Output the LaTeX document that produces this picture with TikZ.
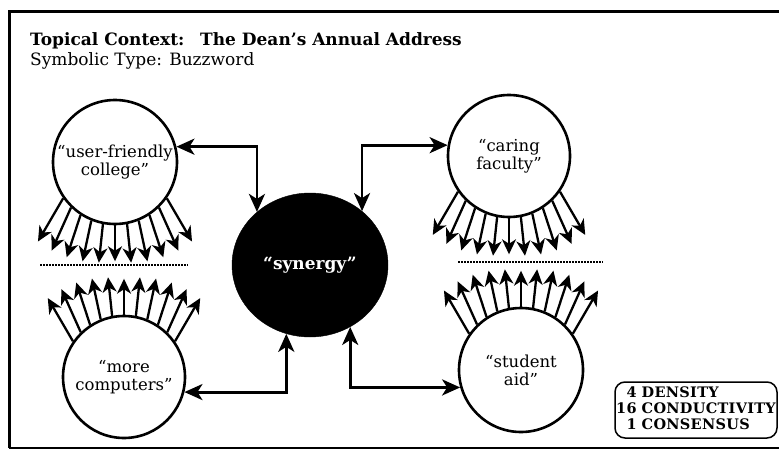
\documentclass[tikz,border=0pt]{standalone}
\usepackage{fontspec}
\setmainfont{DejaVu Serif}
\usetikzlibrary{arrows.meta,calc,shapes.geometric}
\begin{document}
\begin{tikzpicture}[x=1pt,y=1pt,
  bub/.style={circle,draw,line width=2.6pt,inner sep=0pt,minimum size=#1,align=center,
    font=\fontsize{16.5}{18}\selectfont},
  conn/.style={line width=2.9pt,{Stealth[length=18pt,width=16pt,inset=5pt]}-{Stealth[length=18pt,width=16pt,inset=5pt]}},
  ray/.style={line width=2.3pt,-{Stealth[length=15pt,width=14pt,inset=4.5pt]}},
  dotl/.style={line width=1.6pt,dash pattern=on 1.5pt off 1.5pt},
  ttl/.style={anchor=base west,inner sep=0pt,font=\bfseries\fontsize{17}{20}\selectfont},
  sub/.style={anchor=base west,inner sep=0pt,font=\fontsize{17}{20}\selectfont},
  legbox/.style={draw,rounded corners=10pt,line width=1.5pt,inner xsep=1pt,inner ysep=0pt,
    minimum width=162pt,minimum height=56pt,
    font=\bfseries\fontsize{14.5}{16}\selectfont\addfontfeature{LetterSpace=2}}
]
\useasboundingbox (0,0) rectangle (779,451);
\clip (0,0) rectangle (779,451);
\fill[white] (0,0) rectangle (779,451);
% frame
\draw[line width=3pt] (9,3) -- (9,439) -- (800,439);
\draw[line width=2pt] (9,3) -- (800,3);
% titles
\node[ttl] (t1) at (30,406) {Topical Context:};
\node[ttl] (t2) at (200,406) {The Dean's Annual Address};
\node[sub] (t3) at (30,385) {Symbolic Type: Buzzword};
% nodes
\node[bub=124pt] (ul) at (115,289) {“user-friendly\\college”};
\node[bub=122pt] (car) at (509,295) {“caring\\faculty”};
\node[bub=122pt] (ll) at (124,74) {“more\\computers”};
\node[bub=124pt] (sa) at (521,81) {“student\\aid”};
\node[ellipse,fill=black,draw,minimum width=156pt,minimum height=144pt,inner sep=0pt,
  text=white,font=\bfseries\fontsize{17}{19}\selectfont] (syn) at (310,186) {“synergy”};
% connectors
\draw[conn] (ul.14) -| (syn.135);
\draw[conn] (car.170) -| (syn.46);
\draw[conn] (ll.-14) -| (syn.251);
\draw[conn] (sa.196) -| (syn.-57);
% fans
\foreach \n in {ul,car}{
  \foreach \t in {215,226,...,325}{
    \pgfmathsetmacro\p{270+0.55*(\t-270)}
    \pgfmathsetmacro\l{36+14*abs(\t-270)/55}
    \draw[ray] (\n.\t) -- ++(\p:\l);
  }
}
\foreach \n in {ll,sa}{
  \foreach \t in {35,46,...,145}{
    \pgfmathsetmacro\p{90+0.55*(\t-90)}
    \pgfmathsetmacro\l{36+14*abs(\t-90)/55}
    \draw[ray] (\n.\t) -- ++(\p:\l);
  }
}
% dotted separators
\draw[dotl] (40,186) -- (188,186);
\draw[dotl] (458,189) -- (603,189);
% legend
\node[legbox] (leg) at (696,41) {\begin{tabular}{@{}r@{\hspace{5pt}}l@{}}4 & DENSITY\\16 & CONDUCTIVITY\\1 & CONSENSUS\end{tabular}};
\end{tikzpicture}
\end{document}
